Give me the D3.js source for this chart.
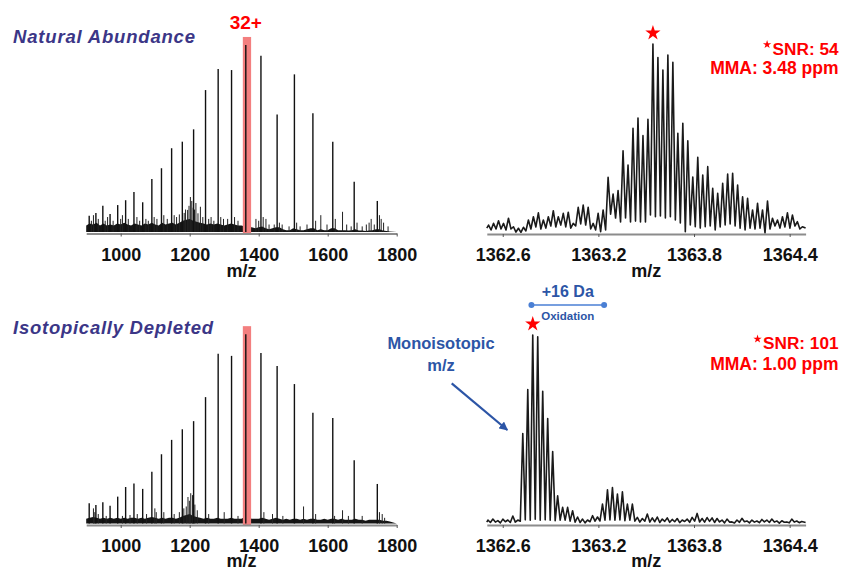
<!DOCTYPE html>
<html><head><meta charset="utf-8">
<script src="https://cdn.jsdelivr.net/npm/d3@7"></script>
<style>body{margin:0;background:#fff;overflow:hidden}</style>
</head><body>
<svg id="c" width="842" height="569" xmlns="http://www.w3.org/2000/svg"></svg>
<script>
// ---------------- DATA ----------------
// charge-state envelope (survey spectra)
const chargeMz = [908.7, 928.1, 948.2, 969.2, 991.3, 1014.3, 1038.4, 1063.7, 1090.3, 1118.2, 1147.6, 1178.6,
                  1211.3, 1245.9, 1282.5, 1321.3, 1362.6, 1406.5, 1453.4, 1503.5, 1557.1, 1614.7, 1676.8, 1743.8];
const naturalPeaks = [8.7, 10.2, 14.1, 9.6, 14.4, 17.0, 21.4, 15.9, 28.3, 34.1, 44.8, 48.3,
                      54.9, 75.9, 87.2, 86.6, 100, 94.3, 62.9, 84.3, 63.5, 48.3, 26.9, 16.6];
const depletedPeaks = [10.7, 9.8, 11.2, 9.4, 14.2, 19.3, 21.1, 18.3, 27.4, 36.6, 44.2, 49.8,
                       54.1, 66.8, 89.7, 88.6, 100, 90.1, 83.3, 73.7, 58.6, 55.7, 33.4, 20.9];

// baseline noise floor, sampled every 10 m/z from 900 to 1800
const floorStart = 900, floorStep = 10;
const naturalFloor = [3.5,4.5,4,5,3.5,4.5,3.5,4,3.5,4.5, 4,5,4,3.5,4.5,4,3.5,4.5,4,5,
                      4,3.5,5,4,4.5,5,4,5,6,6.5, 7,6,5.5,5,4.5,4,4.5,4,4.5,4,
                      3.5,4,4.5,4,3.5,3.5,3,2.5,2.5,2, 2.5,3,2,1.5,2,2.5,2.5,1.5,1,1,
                      2,1.5,1,1,1.5,2,2,1,1.5,1, 1,2,2,1,1,1,0.8,1,1.5,0.8,
                      0.8,0.5,0.8,1,1.5,1.5,0.8,0.5,0.3,0.2, 0];
const depletedFloor = [2.5,3,3.5,3,2.5,3,2.5,3,2.5,3, 2.5,3,2.5,3,3,2.5,3,2.5,3,3.5,
                       3,2.5,3,2.5,3,3,2.5,3,4,4.5, 5,4,3.5,3,2.5,3,2.5,2.5,3,2.5,
                       2.5,2.5,3,2.5,2.5,2.5,3.5,3,2.5,2.5, 2.5,3,2.5,2,2.5,3,2.5,2,2.5,2,
                       2.5,2.5,2,2.5,2,2.5,2.5,2,2,2.5, 2,2.5,2.5,2,2.5,2,2,2,2.5,2,
                       2,1.5,2,2,2,2,1.5,1.5,1,0.5, 0];

// small noise spikes [m/z, intensity]
const naturalSpikes = [[915,6],[921,9],[935,7],[955,6],[962,8],[978,6],[1000,7],[1005,9],[1022,7],[1047,8],
  [1055,6],[1073,7],[1080,6],[1097,8],[1105,7],[1125,9],[1135,7],[1155,9],[1162,8],[1170,9.4],
  [1184,10.2],[1188,12],[1194,11.8],[1198,14],[1202,18.7],[1206,16.6],[1210,13],[1214,12],[1218,15.5],[1224,10],
  [1231,13.5],[1238,8],[1255,7],[1262,8],[1270,6],[1290,8],[1298,7],[1310,7],[1330,8],[1340,6],
  [1392,7],[1400,6],[1413,8],[1421,7],[1430,4],[1445,4],[1460,5],[1468,4],[1488,3],[1510,5],
  [1520,3],[1540,4],[1565,6],[1580,9],[1598,4],[1622,7],[1643,10.8],[1655,4],[1668,3],[1685,5],
  [1700,3],[1712,4],[1720,5],[1726,7],[1735,4],[1750,9],[1755,7],[1762,5],[1775,3]];
const depletedSpikes = [[921,8],[925,6],[935,5],[958,4],[1005,4],[1027,4.5],[1048,5],[1075,5],[1099,8],[1103,6],
  [1125,6],[1155,5],[1170,6],[1183,8],[1190,9],[1195,14],[1199,12],[1203,16],[1208,15],[1215,10],
  [1222,7],[1255,5],[1300,6],[1340,4],[1415,6],[1440,5],[1470,4],[1530,9],[1565,5],[1620,4],
  [1643,7],[1660,4],[1700,4],[1750,6],[1758,5],[1765,3]];

// 32+ highlight window (m/z)
const highlightMz = [1354, 1378];
const highlightTop = 104.3;

// isotopic distributions of the 32+ ion (profile: peak tops and valleys)
const isoStep = 1 / 32;
const naturalIsoStart = 1362.511;
const naturalIsoPeaks = [4.2,5.1,6.5,5.1,7.8,3.3,2.5,3.0,6.9,8.6,
  10.7,6.9,8.6,11.8,8.6,10.4,11.0,5.1,13.6,14.8,
  13.6,5.1,10.4,12.2,29.5,20.6,22.4,43.5,36.0,55.4,
  60.8,51.5,60.2,100,92.8,86.2,94.2,90.3,52.8,58.0,
  48.8,29.6,40.1,30.7,35.1,23.7,21.0,26.3,31.2,31.6,
  25.4,19.2,18.4,12.2,15.7,12.2,16.9,7.8,6.9,8.6,
  10.7,9.5,6.0,3.3];
const naturalIsoValleys = [1.6,2.1,2.1,1.6,2.1,0.5,0.3,1.1,2.1,3.2,
  2.1,2.6,3.7,3.2,4.2,3.2,2.6,3.7,4.8,4.2,
  2.1,1.6,0.7,1.6,10.0,7.9,5.8,7.9,5.8,6.3,
  5.8,5.8,9.5,8.6,9.0,7.9,8.6,6.9,5.3,0.7,
  4.2,3.3,2.6,3.3,3.7,1.6,3.2,4.2,4.8,3.7,
  2.6,1.6,2.6,2.1,2.6,0.0,2.1,3.7,2.6,3.2,
  2.6,3.7,2.1];
const naturalIsoEnds = [2.6, 2.6];

const depletedIsoStart = 1362.507;
const depletedIsoPeaks = [2.1,2.6,1.8,2.6,2.1,4.2,2.1,47.9,71.1,100,
  99.1,70.2,55.8,38.3,14.9,8.8,8.8,7.0,3.7,2.6,
  2.1,4.4,3.7,10.5,18.1,19.3,15.8,17.0,10.5,10.5,
  3.5,2.9,5.3,3.2,3.7,2.6,3.2,2.4,2.9,2.1,
  2.6,3.5,5.6,2.9,3.4,3.2,2.9,2.1,2.6,1.1,
  2.1,3.0,1.6,2.1,1.6,2.4,2.1,2.6,1.6,1.7,
  1.1,2.6,1.6,1.3];
const depletedIsoValleys = [0.8,1.0,0.6,1.2,0.8,1.0,1.5,2.2,2.0,2.5,
  2.0,2.2,2.0,1.8,2.0,2.0,1.5,1.0,0.8,0.6,
  1.2,1.5,1.6,2.0,2.2,2.0,2.2,1.8,2.0,1.5,
  1.0,1.5,1.0,1.2,0.8,1.4,0.9,1.2,0.7,1.3,
  0.9,1.5,1.1,1.0,1.4,0.8,1.1,0.6,1.0,0.5,
  0.9,1.2,0.6,1.0,0.7,1.1,0.8,1.0,0.5,0.9,
  0.6,1.0,0.7];
const depletedIsoEnds = [1.0, 0.8];

// axes
const surveyDomain = [900, 1800];
const surveyTicks = [1000, 1200, 1400, 1600, 1800];
const zoomDomain = [1362.5, 1364.5];
const zoomTicks = [1362.6, 1363.2, 1363.8, 1364.4];

// annotations
const oxidationMz = [1362.78, 1363.236];
const statsNatural = ["SNR: 54", "MMA: 3.48 ppm"];
const statsDepleted = ["SNR: 101", "MMA: 1.00 ppm"];

// ---------------- DRAWING ----------------
const FONT = "Arial, 'Liberation Sans', Helvetica, sans-serif";
const svg = d3.select("#c");
const RED = "#ff0000", TITLE = "#3b3687", BLUE = "#2c55a6";

const xL = d3.scaleLinear().domain(surveyDomain).range([86.2, 396.7]);
const xR = d3.scaleLinear().domain(zoomDomain).range([486.8, 805.6]);

function axis(scale, axisY, ticks, fmt, labelDy) {
  const ax = d3.axisBottom(scale).tickValues(ticks).tickSize(3).tickSizeOuter(0)
    .tickPadding(11.5).tickFormat(fmt);
  const g = svg.append("g").attr("transform", `translate(0,${axisY})`).call(ax);
  g.select(".domain").attr("stroke", "#8c8c8c").attr("stroke-width", 2.2);
  g.selectAll(".tick line").attr("stroke", "#555").attr("stroke-width", 1);
  g.selectAll(".tick text").attr("fill", "#111")
    .style("font-family", FONT).style("font-weight", "bold").style("font-size", "18px");
  const r = scale.range();
  svg.append("text").attr("x", (r[0] + r[1]) / 2).attr("y", axisY + labelDy)
    .attr("text-anchor", "middle").attr("fill", "#111")
    .style("font-family", FONT).style("font-weight", "bold").style("font-size", "18px")
    .text("m/z");
}

function survey(peaks, floor, spikes, y0, y100, axisY, labelDy) {
  const y = d3.scaleLinear().domain([0, 100]).range([y0, y100]);
  const g = svg.append("g");
  const area = d3.area().x((d, i) => xL(floorStart + i * floorStep)).y0(y(0)).y1(d => y(d));
  g.append("path").datum(floor).attr("d", area).attr("fill", "#151515");
  g.append("rect").attr("x", xL(highlightMz[0])).attr("width", xL(highlightMz[1]) - xL(highlightMz[0]))
    .attr("y", y(highlightTop)).attr("height", axisY - y(highlightTop)).attr("fill", "#f37f7f");
  g.selectAll(null).data(spikes.filter(d => d[0] < highlightMz[0] || d[0] > highlightMz[1])).enter().append("line")
    .attr("x1", d => xL(d[0])).attr("x2", d => xL(d[0]))
    .attr("y1", y(0)).attr("y2", d => y(d[1]))
    .attr("stroke", "#222").attr("stroke-width", 1);
  g.selectAll(null).data(chargeMz).enter().append("line")
    .attr("x1", d => xL(d)).attr("x2", d => xL(d))
    .attr("y1", y(0)).attr("y2", (d, i) => y(peaks[i]))
    .attr("stroke", "#111").attr("stroke-width", 1.4);
  axis(xL, axisY, surveyTicks, d3.format("d"), labelDy);
}

function profile(start, peaks, valleys, ends, y0, y100, axisY, labelDy) {
  const y = d3.scaleLinear().domain([0, 100]).range([y0, y100]);
  const pts = [[zoomDomain[0], ends[0]]];
  peaks.forEach((p, k) => {
    pts.push([start + k * isoStep, p]);
    if (k < valleys.length) pts.push([start + (k + 0.5) * isoStep, valleys[k]]);
  });
  pts.push([zoomDomain[1], ends[1]]);
  const line = d3.line().x(d => xR(d[0])).y(d => y(d[1]));
  svg.append("path").datum(pts).attr("d", line).attr("fill", "none")
    .attr("stroke", "#1a1a1a").attr("stroke-width", 1.6).attr("stroke-linejoin", "round");
  axis(xR, axisY, zoomTicks, d3.format(".1f"), labelDy);
  // star over most abundant isotopic peak
  const kMax = d3.maxIndex(peaks);
  svg.append("path").attr("d", d3.symbol(d3.symbolStar, 72)())
    .attr("transform", `translate(${xR(start + kMax * isoStep)},${y(100) - 11})`)
    .attr("fill", RED);
}

function stats(lines, base1, base2) {
  const t1 = svg.append("text").attr("x", 838.5).attr("y", base1).attr("text-anchor", "end")
    .attr("fill", RED).style("font-family", FONT).style("font-weight", "bold").style("font-size", "17.2px")
    .text(lines[0]);
  svg.append("text").attr("x", 838.5).attr("y", base2).attr("text-anchor", "end")
    .attr("fill", RED).style("font-family", FONT).style("font-weight", "bold").style("font-size", "17.5px")
    .text(lines[1]);
  const w = t1.node().getComputedTextLength();
  svg.append("path").attr("d", d3.symbol(d3.symbolStar, 22)())
    .attr("transform", `translate(${838.5 - w - 5.5},${base1 - 10})`).attr("fill", RED);
}

// top row: natural abundance
survey(naturalPeaks, naturalFloor, naturalSpikes, 232, 45, 233.5, 43);
profile(naturalIsoStart, naturalIsoPeaks, naturalIsoValleys, naturalIsoEnds, 233, 44, 234, 42.5);
// bottom row: isotopically depleted
survey(depletedPeaks, depletedFloor, depletedSpikes, 523.5, 334.3, 525, 41.5);
profile(depletedIsoStart, depletedIsoPeaks, depletedIsoValleys, depletedIsoEnds, 524, 335, 525, 41.5);

// titles
function title(txt, x, y, len) {
  svg.append("text").attr("x", x).attr("y", y).attr("fill", TITLE)
    .attr("textLength", len).attr("lengthAdjust", "spacing")
    .style("font-family", FONT).style("font-weight", "bold").style("font-style", "italic").style("font-size", "18.5px")
    .text(txt);
}
title("Natural Abundance", 13, 43, 182);
title("Isotopically Depleted", 13, 334, 200);

// 32+ label
svg.append("text").attr("x", xL(1362.6)).attr("y", 29).attr("text-anchor", "middle").attr("fill", RED)
  .style("font-family", FONT).style("font-weight", "bold").style("font-size", "19px").text("32+");

stats(statsNatural, 54.5, 73.5);
stats(statsDepleted, 349, 369.5);

// oxidation annotation
const oxY = 305;
svg.append("text").attr("x", (xR(oxidationMz[0]) + xR(oxidationMz[1])) / 2).attr("y", 297)
  .attr("text-anchor", "middle").attr("fill", BLUE)
  .style("font-family", FONT).style("font-weight", "bold").style("font-size", "16px").text("+16 Da");
svg.append("line").attr("x1", xR(oxidationMz[0])).attr("x2", xR(oxidationMz[1]))
  .attr("y1", oxY).attr("y2", oxY).attr("stroke", "#4a7fd4").attr("stroke-width", 1.5);
svg.selectAll(null).data(oxidationMz).enter().append("circle")
  .attr("cx", d => xR(d)).attr("cy", oxY).attr("r", 3).attr("fill", "#4a7fd4");
svg.append("text").attr("x", (xR(oxidationMz[0]) + xR(oxidationMz[1])) / 2).attr("y", 319.5)
  .attr("text-anchor", "middle").attr("fill", BLUE)
  .style("font-family", FONT).style("font-weight", "bold").style("font-size", "11.5px").text("Oxidation");

// monoisotopic annotation
svg.append("text").attr("x", 441).attr("y", 349).attr("text-anchor", "middle").attr("fill", BLUE)
  .style("font-family", FONT).style("font-weight", "bold").style("font-size", "16.5px").text("Monoisotopic");
svg.append("text").attr("x", 441).attr("y", 371).attr("text-anchor", "middle").attr("fill", BLUE)
  .style("font-family", FONT).style("font-weight", "bold").style("font-size", "16.5px").text("m/z");
svg.append("defs").append("marker").attr("id", "ah").attr("viewBox", "0 0 10 10")
  .attr("refX", 9).attr("refY", 5).attr("markerWidth", 4).attr("markerHeight", 4)
  .attr("orient", "auto").attr("markerUnits", "strokeWidth")
  .append("path").attr("d", "M0,0L10,5L0,10z").attr("fill", BLUE);
svg.append("line").attr("x1", 451.7).attr("y1", 383.3).attr("x2", 507.3).attr("y2", 430)
  .attr("stroke", BLUE).attr("stroke-width", 2.2).attr("marker-end", "url(#ah)");
</script>
</body></html>
